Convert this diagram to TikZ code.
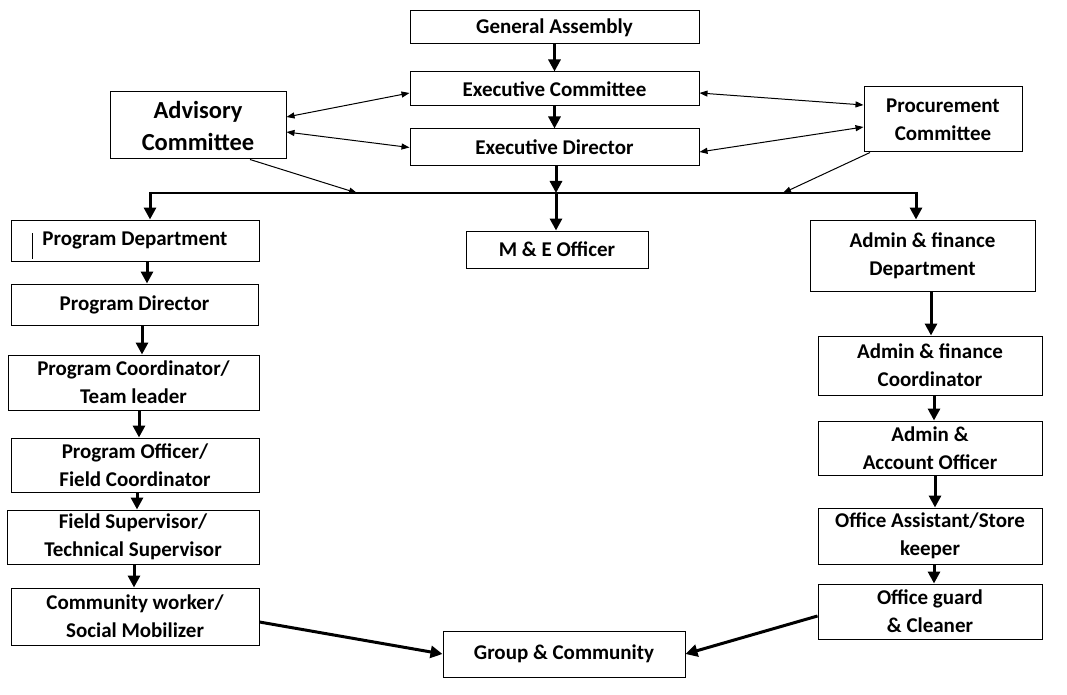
\documentclass[tikz,border=0pt]{standalone}
\usepackage{fontspec}
\setmainfont{Carlito}
\usetikzlibrary{arrows.meta,positioning,calc}
\begin{document}
\begin{tikzpicture}[x=1pt,y=-1pt,
  box/.style={draw,line width=1pt,inner sep=2pt,align=center,
    font=\fontsize{21}{28}\selectfont\bfseries},
  bigbox/.style={box,font=\fontsize{24.5}{32}\selectfont\bfseries},
  thk/.style={line width=3pt},
  thkarrow/.style={line width=3pt,-{Triangle[length=12pt,width=12pt]}},
  thin2/.style={line width=1pt,{Triangle[length=8pt,width=6pt]}-{Triangle[length=8pt,width=6pt]}},
  thin1/.style={line width=1pt,-{Triangle[length=8pt,width=6pt]}}]
\useasboundingbox (0,0) rectangle (1067,695);
% top
\node[box,minimum width=289pt,minimum height=33pt] (ga) at (554.5,27.5) {General Assembly};
\node[box,minimum width=289pt,minimum height=34pt] (ec) at (554.5,89) {Executive Committee};
\node[box,minimum width=289pt,minimum height=37pt] (ed) at (554.5,147.5) {Executive Director};
\node[bigbox,minimum width=176pt,minimum height=67pt] (adv) at (198,125.5) {Advisory\\Committee};
\node[box,minimum width=158pt,minimum height=65pt] (proc) at (943,119.5) {Procurement\\Committee};
% second row
\node[box,minimum width=248pt,minimum height=41pt] (pd) at (135,240.5) {Program Department};
\node[box,minimum width=182pt,minimum height=37pt] (me) at (557,249.5) {M \& E Officer};
\node[box,minimum width=225pt,minimum height=71pt] (afd) at (922.5,255.5) {Admin \& finance\\Department};
% left column
\node[box,minimum width=247pt,minimum height=41pt] (pdir) at (134.5,304.5) {Program Director};
\node[box,minimum width=251pt,minimum height=55pt] (pc) at (133.5,382.5) {Program Coordinator/\\Team leader};
\node[box,minimum width=248pt,minimum height=54pt] (po) at (135,465) {Program Officer/\\Field Coordinator};
\node[box,minimum width=252pt,minimum height=54pt] (fs) at (133,537) {Field Supervisor/\\Technical Supervisor};
\node[box,minimum width=248pt,minimum height=57pt] (cw) at (135,616.5) {Community worker/\\Social Mobilizer};
% right column
\node[box,minimum width=224pt,minimum height=59pt] (afc) at (930,365.5) {Admin \& finance\\Coordinator};
\node[box,minimum width=224pt,minimum height=54pt] (aao) at (930,448) {Admin \&\\Account Officer};
\node[box,minimum width=224pt,minimum height=56pt] (oas) at (930,536) {Office Assistant/Store\\keeper};
\node[box,minimum width=224pt,minimum height=55pt] (og) at (930,611.5) {Office guard\\\& Cleaner};
% bottom
\node[box,minimum width=242pt,minimum height=46pt] (gc) at (564,654) {Group \& Community};
% stray mark
\draw[line width=0.8pt] ([xshift=22pt,yshift=3pt]pd.south west) -- ([xshift=22pt,yshift=29pt]pd.south west);
% bus
\coordinate (busL) at (150,193);
\coordinate (busR) at (916,193);
\coordinate (busM) at (556,193);
\coordinate (busA) at (357,193);
\coordinate (busP) at (783,193);
\draw[line width=2.5pt] (busL) -- (busR);
\draw[thkarrow] ([yshift=1.2pt]busL) -- (busL |- pd.north);
\draw[thkarrow] ([yshift=1.2pt]busR) -- (busR |- afd.north);
\draw[thkarrow] (busM |- ed.south) -- (busM);
\draw[thkarrow] (busM) -- (busM |- me.north);
% top column
\draw[thkarrow] (ga.south) -- (ec.north);
\draw[thkarrow] (ec.south) -- (ed.north);
% thin arrows
\draw[thin2] ([yshift=8.5pt]adv.east) -- ([yshift=-4pt]ec.west);
\draw[thin2] ([yshift=-6.5pt]adv.east) -- (ed.west);
\draw[thin1] ([xshift=52pt]adv.south) -- (busA);
\draw[thin2] ([yshift=-4pt]ec.east) -- ([yshift=14.5pt]proc.west);
\draw[thin2] ([yshift=-4.5pt]ed.east) -- ([yshift=-7.5pt]proc.west);
\draw[thin1] ([xshift=-73pt]proc.south) -- (busP);
% left column arrows
\draw[thkarrow] (pd.south -| 147,0) -- (pdir.north -| 147,0);
\draw[thkarrow] (pdir.south -| 142,0) -- (pc.north -| 142,0);
\draw[thkarrow] (pc.south -| 139,0) -- (po.north -| 139,0);
\draw[thkarrow] (po.south -| 137,0) -- (fs.north -| 137,0);
\draw[thkarrow] (fs.south -| 134,0) -- (cw.north -| 134,0);
% right column arrows
\draw[thkarrow] (afd.south -| 931,0) -- (afc.north -| 931,0);
\draw[thkarrow] (afc.south -| 934,0) -- (aao.north -| 934,0);
\draw[thkarrow] (aao.south -| 935,0) -- (oas.north -| 935,0);
\draw[thkarrow] (oas.south -| 934,0) -- (og.north -| 934,0);
% bottom arrows
\draw[thkarrow] ([yshift=-5.5pt]cw.east) -- (gc.west);
\draw[thkarrow] ([yshift=-4.5pt]og.west) -- (gc.east);
\end{tikzpicture}
\end{document}
